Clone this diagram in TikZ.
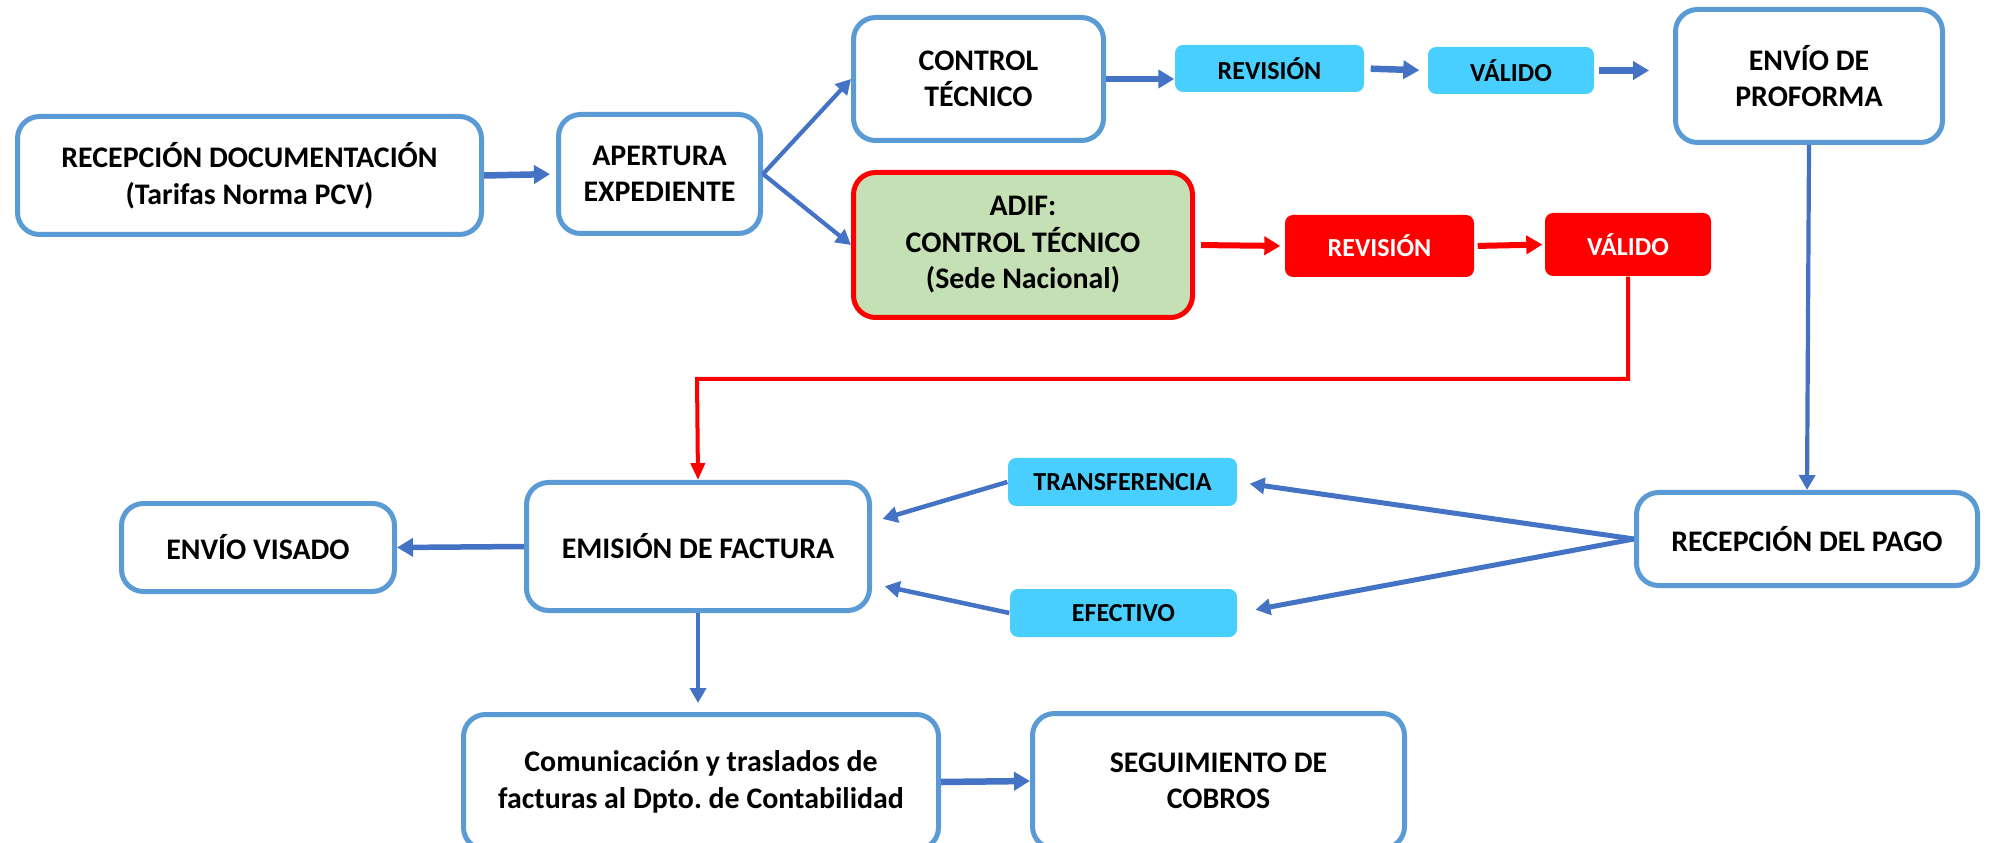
\documentclass[tikz,border=0pt]{standalone}
\usepackage{fontspec}
\setmainfont{Carlito}
\usetikzlibrary{arrows.meta, calc}
\definecolor{BoxBlue}{RGB}{91,155,213}
\definecolor{ArrowBlue}{RGB}{68,114,196}
\definecolor{CyanFill}{RGB}{72,207,255}
\definecolor{AdifRed}{RGB}{255,0,0}
\definecolor{AdifGreen}{RGB}{197,224,180}
\tikzstyle{block} = [rectangle, rounded corners=2.2mm, draw=BoxBlue, line width=0.5mm, fill=white, align=center, inner sep=0pt, font=\bfseries\fontsize{8.5}{10.4}\selectfont]
\tikzstyle{cyanbox} = [rectangle, rounded corners=0.8mm, fill=CyanFill, inner sep=0pt, font=\bfseries\fontsize{7.4}{9}\selectfont]
\tikzstyle{redbox} = [cyanbox, fill=AdifRed, text=white]
\tikzstyle{arrow} = [line width=0.65mm, ArrowBlue, -{Triangle[length=1.6mm, width=1.8mm]}]
\tikzstyle{slimarrow} = [line width=0.42mm, ArrowBlue, -{Triangle[length=1.5mm, width=1.6mm]}]
\tikzstyle{redarrow} = [line width=0.6mm, AdifRed, -{Triangle[length=1.6mm, width=1.8mm]}]
\tikzstyle{redline} = [line width=0.4mm, AdifRed, -{Triangle[length=1.7mm, width=1.4mm]}]
\tikzset{
  adif/.style={block, draw=AdifRed, fill=AdifGreen}
}

\begin{document}
\begin{tikzpicture}[x=0.1mm, y=-0.1mm]
    \useasboundingbox (0,0) rectangle (1991,843);

    % Start of the process
    \node[block, minimum width=46.4mm, minimum height=11.8mm] (recep) at (249.5,175.5) {RECEPCIÓN DOCUMENTACIÓN\\(Tarifas Norma PCV)};
    \node[block, minimum width=20.2mm, minimum height=11.9mm] (apert) at (659.5,174) {APERTURA\\EXPEDIENTE};

    % Technical control branch
    \node[block, minimum width=25mm, minimum height=12.3mm] (ctrl) at (978.5,79) {CONTROL\\TÉCNICO};
    \node[cyanbox, minimum width=18.9mm, minimum height=4.7mm] (revA) at (1269.5,68.5) {REVISIÓN};
    \node[cyanbox, minimum width=16.6mm, minimum height=4.7mm] (valA) at (1511,70.5) {VÁLIDO};
    \node[block, minimum width=26.7mm, minimum height=13.3mm] (envio) at (1809,76) {ENVÍO DE\\PROFORMA};

    % ADIF branch
    \node[adif, minimum width=33.9mm, minimum height=14.5mm] (adifctrl) at (1023,245) {ADIF:\\CONTROL TÉCNICO\\(Sede Nacional)};
    \node[redbox, minimum width=18.9mm, minimum height=6.2mm] (revB) at (1379.5,246) {REVISIÓN};
    \node[redbox, minimum width=16.6mm, minimum height=6.3mm] (valB) at (1628,244.5) {VÁLIDO};

    % Payment and invoice
    \node[block, minimum width=34.1mm, minimum height=9.3mm] (pago) at (1807,539) {RECEPCIÓN DEL PAGO};
    \node[cyanbox, minimum width=22.9mm, minimum height=4.8mm] (transf) at (1122.5,482) {TRANSFERENCIA};
    \node[cyanbox, minimum width=22.7mm, minimum height=4.8mm] (efect) at (1123.5,613) {EFECTIVO};
    \node[block, minimum width=34.3mm, minimum height=12.8mm] (emision) at (698,546.5) {EMISIÓN DE FACTURA};
    \node[block, minimum width=27.3mm, minimum height=8.8mm] (visado) at (258,547.5) {ENVÍO VISADO};

    % Accounting
    \node[block, minimum width=47.5mm, minimum height=13.5mm] (comun) at (701,782) {Comunicación y traslados de\\facturas al Dpto.\ de Contabilidad};
    \node[block, minimum width=37.2mm, minimum height=13.5mm] (seguim) at (1218.5,781) {SEGUIMIENTO DE\\COBROS};

    % Upper arrows
    \draw[arrow, shorten >=0.6mm] (recep.east) -- (apert.west);
    \draw[slimarrow] (apert.east) -- (ctrl.west);
    \draw[slimarrow] (apert.east) -- (adifctrl.west);
    \draw[arrow] (ctrl.east) -- (ctrl.east -| revA.west);
    \draw[arrow, shorten <=0.6mm, shorten >=0.8mm] (revA.east) -- (valA.west);
    \draw[arrow, shorten <=0.4mm, shorten >=2.4mm] (valA.east) -- (valA.east -| envio.west);
    \draw[redarrow, shorten <=0.6mm, shorten >=0.4mm] (adifctrl.east) -- (revB.west);
    \draw[redarrow, shorten <=0.3mm, shorten >=0.2mm] (revB.east) -- (valB.west);

    % Return paths
    \coordinate (redturn) at (697,379);
    \draw[redline] (valB.south) |- (redturn) -- (emision.north);
    \draw[slimarrow] (envio.south) -- (pago.north);

    % Payment types
    \draw[slimarrow, line width=0.5mm, shorten >=1.2mm] (pago.west) -- (transf.east);
    \draw[slimarrow, line width=0.5mm, shorten >=1.8mm] (pago.west) -- (efect.east);
    \draw[slimarrow, line width=0.45mm, shorten >=1.1mm] (transf.west) -- (emision.8);
    \draw[slimarrow, line width=0.45mm, shorten >=1.3mm] (efect.west) -- (emision.348);

    % Invoice outputs
    \draw[arrow, line width=0.55mm] (emision.west) -- (visado.east);
    \draw[slimarrow, shorten >=0.9mm] (emision.south) -- (emision.south |- comun.north);
    \draw[arrow] (comun.east) -- (seguim.west);
\end{tikzpicture}
\end{document}
